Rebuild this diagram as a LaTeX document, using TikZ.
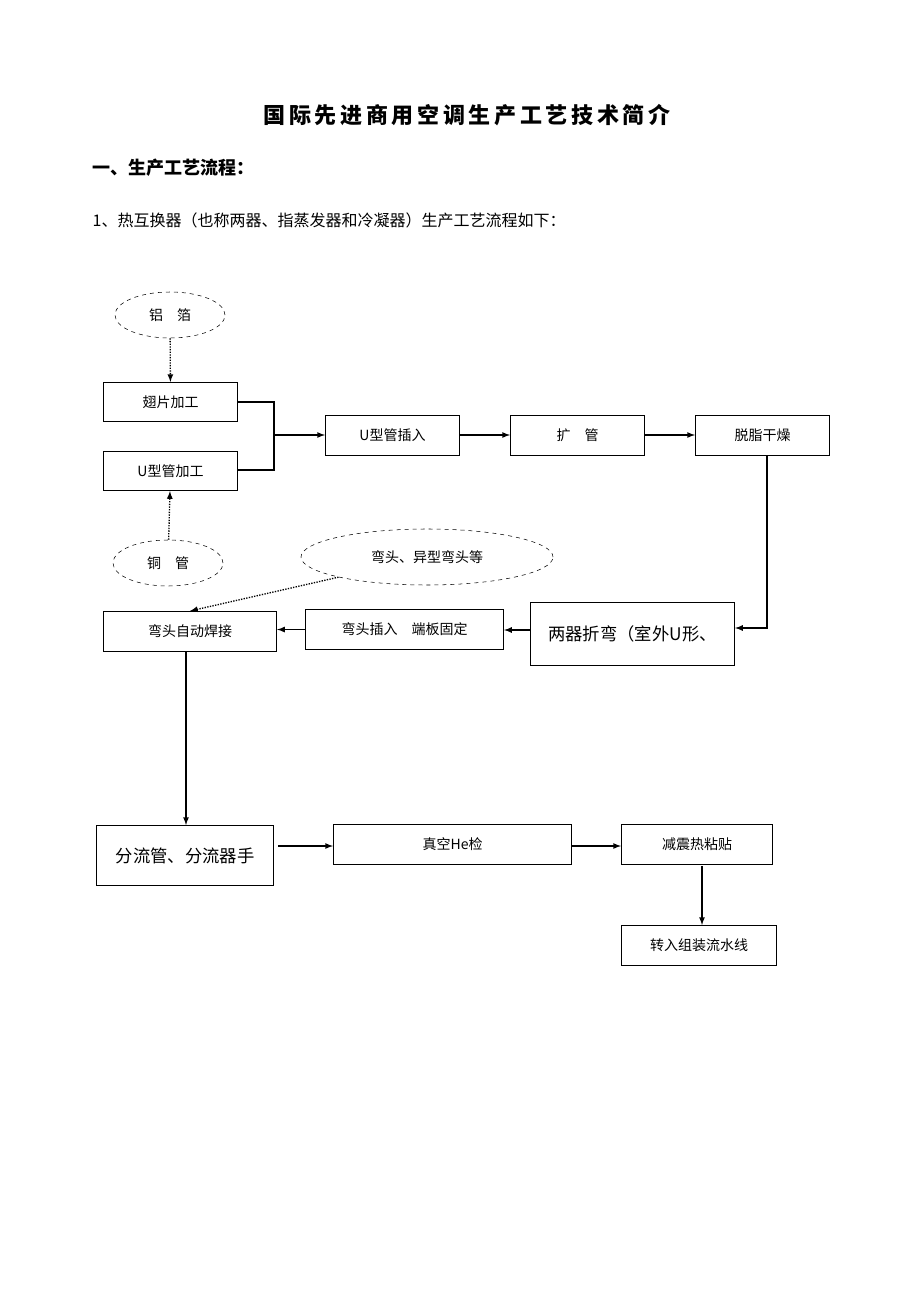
\documentclass[tikz,border=0pt]{standalone}
\usepackage{fontspec}
\setmainfont{Liberation Serif}
\newfontfamily\cjk{Noto Sans CJK SC}
\usetikzlibrary{shapes.geometric}
\usetikzlibrary{arrows}
\newdimen\px \px=0.75pt

\begin{document}
\begin{tikzpicture}[x=0.75pt,y=-0.75pt,
box/.style={draw,line width=0.8pt,rectangle,anchor=north west,inner sep=0pt,font=\cjk\fontsize{10.5}{12}\selectfont},
bigbox/.style={box,font=\cjk\fontsize{13}{15}\selectfont},
oval/.style={draw,dashed,ellipse,inner sep=0pt,font=\cjk\fontsize{10.5}{12}\selectfont},
freccia/.style={-latex,line width=1pt},
puntini/.style={-latex,densely dotted,line width=1pt}
]
\useasboundingbox (0,0) rectangle (920,1302);
\node[font=\cjk\bfseries\fontsize{16.5}{18}\selectfont] (titolo) at (467,115) {国\,际\,先\,进\,商\,用\,空\,调\,生\,产\,工\,艺\,技\,术\,简\,介};
\node[anchor=west,font=\cjk\bfseries\fontsize{13.5}{15}\selectfont] (capo) at (88,168) {一、生产工艺流程：};
\node[anchor=west,font=\cjk\fontsize{12}{14}\selectfont] (sotto) at (88,220) {1、热互换器（也称两器、指蒸发器和冷凝器）生产工艺流程如下：};
%--
\node[oval,minimum width=110\px,minimum height=46\px] (lv) at (170,315) {\raisebox{-8pt}{铝\quad 箔}};
\node[box,minimum width=134\px,minimum height=39\px] (chi) at (103,382) {\raisebox{-9pt}{翅片加工}};
\node[box,minimum width=134\px,minimum height=39\px] (ug) at (103,451) {\raisebox{-9pt}{U型管加工}};
\node[oval,minimum width=110\px,minimum height=46\px] (tong) at (168,563) {\raisebox{-8pt}{铜\quad 管}};
\draw[puntini] (lv) -- (chi);
\draw[puntini] (tong) -- (ug);
%--
\coordinate (g1) at (274,402);
\coordinate (g2) at (274,470);
\coordinate (g3) at (274,435);
\node[box,minimum width=134\px,minimum height=40\px] (ins) at (325,415) {\raisebox{-9pt}{U型管插入}};
\node[box,minimum width=134\px,minimum height=40\px] (kuo) at (510,415) {\raisebox{-9pt}{扩\quad 管}};
\node[box,minimum width=134\px,minimum height=40\px] (tuo) at (695,415) {\raisebox{-9pt}{脱脂干燥}};
\draw[line width=0.8pt] (chi.east |- g1) -- (g1) -- (g2) -- (ug.east |- g2);
\draw[freccia] (g3) -- (ins.west |- g3);
\draw[freccia] (ins.east |- g3) -- (kuo.west |- g3);
\draw[freccia] (kuo.east |- g3) -- (tuo.west |- g3);
%----
\node[bigbox,minimum width=204\px,minimum height=63\px] (zhe) at (530,602) {两器折弯（室外U形、};
\node[box,minimum width=198\px,minimum height=40\px] (wci) at (305,609) {\raisebox{-9pt}{弯头插入\quad 端板固定}};
\node[box,minimum width=173\px,minimum height=40\px] (han) at (103,611) {\raisebox{-9pt}{弯头自动焊接}};
\node[oval,minimum width=252\px,minimum height=56\px] (wt) at (427,557) {\raisebox{-4pt}{弯头、异型弯头等}};
\coordinate (d1) at (767,455);
\coordinate (d2) at (767,628);
\draw[freccia] (d1) -- (d2) -- (zhe.east |- d2);
\draw[freccia] (zhe.west |- 0,630) -- (wci.east |- 0,630);
\draw[freccia] (wci.west) -- (han.east |- wci.west);
\draw[puntini] (wt) -- (190,611);
%----
\coordinate (h1) at (186,651);
\node[bigbox,minimum width=177\px,minimum height=60\px] (fen) at (96,825) {分流管、分流器手};
\node[box,minimum width=238\px,minimum height=40\px] (zk) at (333,824) {\raisebox{-9pt}{真空He检}};
\node[box,minimum width=151\px,minimum height=40\px] (jz) at (621,824) {\raisebox{-9pt}{减震热粘贴}};
\node[box,minimum width=155\px,minimum height=40\px] (zr) at (621,925) {\raisebox{-9pt}{转入组装流水线}};
\draw[freccia] (h1) -- (h1 |- fen.north);
\draw[freccia] (278,846) -- (zk.west |- 0,846);
\draw[freccia] (zk.east |- 0,846) -- (jz.west |- 0,846);
\draw[freccia] (702,866) -- (702,925);
\end{tikzpicture}
\end{document}
